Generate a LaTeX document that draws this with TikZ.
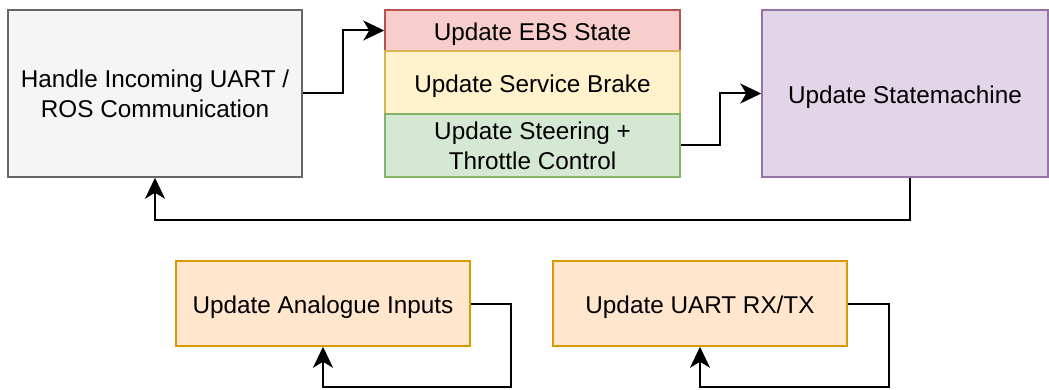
\documentclass[tikz,border=0pt]{standalone}
\usepackage{fontspec}
\setmainfont{Liberation Sans}
\usetikzlibrary{arrows.meta}
\definecolor{greyfill}{HTML}{F5F5F5}\definecolor{greyline}{HTML}{666666}
\definecolor{redfill}{HTML}{F8CECC}\definecolor{redline}{HTML}{B85450}
\definecolor{yelfill}{HTML}{FFF2CC}\definecolor{yelline}{HTML}{D6B656}
\definecolor{grnfill}{HTML}{D5E8D4}\definecolor{grnline}{HTML}{82B366}
\definecolor{purfill}{HTML}{E1D5E7}\definecolor{purline}{HTML}{9673A6}
\definecolor{orgfill}{HTML}{FFE6CC}\definecolor{orgline}{HTML}{D79B00}
\tikzset{
  box/.style={rectangle, inner sep=0pt, line width=1.5pt, align=center,
    font=\fontsize{24.3}{30}\selectfont, text=black,
    execute at begin node={\rule{0pt}{25pt}}},
  flow/.style={line width=2pt, -{Stealth[length=21pt,width=20pt,inset=6pt]}},
}
\begin{document}
\begin{tikzpicture}[x=1pt,y=-1pt]
\useasboundingbox (0,0) rectangle (1049,390);
% main loop boxes
\node[box, draw=greyline, fill=greyfill, minimum width=294pt, minimum height=167pt] (comm) at (155,93.5)
  {Handle Incoming UART /\\ROS Communication};
\node[box, draw=redline, fill=redfill, minimum width=295pt, minimum height=41pt] (ebs) at (532.5,30.5)
  {Update EBS State};
\node[box, draw=yelline, fill=yelfill, minimum width=295pt, minimum height=63pt] (brake) at (532.5,82.5)
  {Update Service Brake};
\node[box, draw=grnline, fill=grnfill, minimum width=295pt, minimum height=63pt] (steer) at (532.5,145.5)
  {Update Steering +\\Throttle Control};
\node[box, draw=purline, fill=purfill, minimum width=286pt, minimum height=167pt] (sm) at (905,93.5)
  {Update Statemachine};
% background tasks
\node[box, draw=orgline, fill=orgfill, minimum width=294pt, minimum height=85pt] (ana) at (323,303.5)
  {Update Analogue Inputs};
\node[box, draw=orgline, fill=orgfill, minimum width=294pt, minimum height=85pt] (uart) at (700,303.5)
  {Update UART RX/TX};
% connectors
\draw[flow] (comm.east) -- (343,93.5) |- (ebs.west);
\draw[flow] (steer.east) -- (720,145.5) |- (sm.west);
\draw[flow] (sm.south -| 910,0) -- (910,220) -| (comm.south);
\draw[flow] (ana.east) -- (511,303.5) |- (323,387) -- (ana.south);
\draw[flow] (uart.east) -- (889,303.5) |- (700,387) -- (uart.south);
\end{tikzpicture}
\end{document}
